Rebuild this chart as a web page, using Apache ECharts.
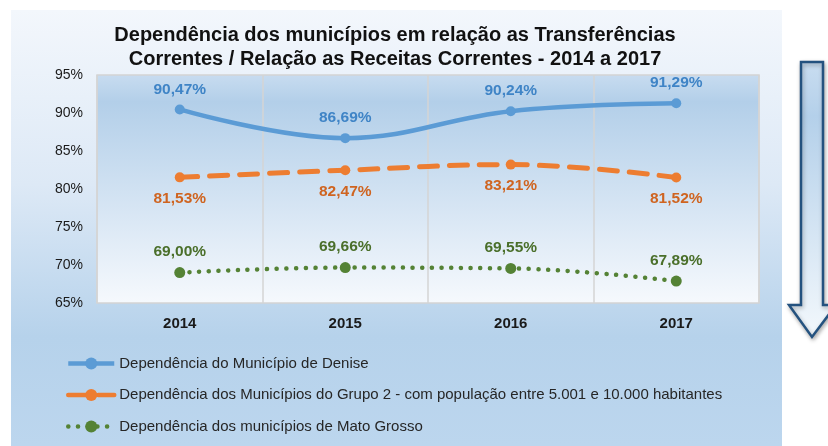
<!DOCTYPE html>
<html><head><meta charset="utf-8">
<script src="https://cdn.jsdelivr.net/npm/echarts@6/dist/echarts.min.js"></script>
<style>
html,body{margin:0;padding:0;background:#fff;}
#c{width:828px;height:446px;
background:linear-gradient(to bottom,#f3f7fc 0%,#dde9f6 40%,#b6d2eb 75%,#bcd6ee 100%) no-repeat;
background-position:11px 10px;background-size:771px 436px;}
</style></head>
<body><div id="c"></div>
<script>
const categories = ['2014','2015','2016','2017'];
const denise = [90.47, 86.69, 90.24, 91.29];
const grupo2 = [81.53, 82.47, 83.21, 81.52];
const matoGrosso = [69.00, 69.66, 69.55, 67.89];
const seriesNames = ['Dependência do Município de Denise',
  'Dependência dos Municípios do Grupo 2 - com população entre 5.001 e 10.000 habitantes',
  'Dependência dos municípios de Mato Grosso'];
const yMin = 65, yMax = 95, yStep = 5;

const FONT = '"Liberation Sans", Arial, sans-serif';
const fmt = p => p.value.toFixed(2).replace('.', ',') + '%';

const chart = echarts.init(document.getElementById('c'), null, {renderer:'canvas'});
chart.setOption({
  animation:false,
  backgroundColor:'transparent',
  title:{
    text:'Dependência dos municípios em relação as Transferências\nCorrentes / Relação as Receitas Correntes - 2014 a 2017',
    left:390, top:18, textAlign:'center',
    textStyle:{fontFamily:FONT, fontSize:20, fontWeight:'bold', color:'#111', lineHeight:24}
  },
  grid:{left:97, right:69, top:75, bottom:143, show:true,
    borderColor:'#d4d4d4', borderWidth:1.5,
    backgroundColor:{type:'linear',x:0,y:0,x2:0,y2:1,colorStops:[
      {offset:0,color:'#c8dcf0'},{offset:0.12,color:'#b3cfe9'},{offset:1,color:'#f6f9fd'}]}
  },
  xAxis:{type:'category', data:categories, boundaryGap:true,
    axisLine:{show:false}, axisTick:{show:false},
    splitLine:{show:true, lineStyle:{color:'#d4d4d4', width:1.5}},
    axisLabel:{fontFamily:FONT, fontSize:15, fontWeight:'bold', color:'#1a1a1a', margin:13}
  },
  yAxis:{type:'value', min:yMin, max:yMax, interval:yStep,
    axisLine:{show:false}, axisTick:{show:false}, splitLine:{show:false},
    axisLabel:{fontFamily:FONT, fontSize:14, color:'#1a1a1a', margin:14, formatter:v=>v+'%'}
  },
  legend:{orient:'vertical', left:61, top:351, itemWidth:46, itemHeight:15, itemGap:16.5,
    lineStyle:{width:4.5},
    textStyle:{fontFamily:FONT, fontSize:15, color:'#262626'},
    data:seriesNames
  },
  graphic:[{
    type:'polygon', z:10,
    shape:{points:[[801,62],[823,62],[823,305],[836,305],[812,337],[789,305],[801,305]]},
    style:{
      fill:{type:'linear',x:0,y:0,x2:0,y2:1,colorStops:[
        {offset:0,color:'#c9ddf0'},{offset:0.2,color:'#b4d0ea'},{offset:1,color:'#f3f8fc'}]},
      stroke:'#24527f', lineWidth:2.5,
      shadowBlur:4, shadowColor:'rgba(0,0,0,0.3)', shadowOffsetX:1, shadowOffsetY:2
    }
  }],
  series:[
    {name:seriesNames[0], type:'line', data:denise, smooth:0.4,
      symbol:'circle', symbolSize:10,
      lineStyle:{color:'#5b9bd5', width:4.5},
      itemStyle:{color:'#5b9bd5'},
      label:{show:true, position:'top', distance:7, formatter:fmt,
        fontFamily:FONT, fontSize:15.5, fontWeight:'bold', color:'#3f84c6'}
    },
    {name:seriesNames[1], type:'line', data:grupo2, smooth:0.4,
      symbol:'circle', symbolSize:10,
      lineStyle:{color:'#ed7d31', width:5, type:[18,12], cap:'round'},
      itemStyle:{color:'#ed7d31'},
      label:{show:true, position:'bottom', distance:8, formatter:fmt,
        fontFamily:FONT, fontSize:15.5, fontWeight:'bold', color:'#cf6420'}
    },
    {name:seriesNames[2], type:'line', data:matoGrosso, smooth:0.4,
      symbol:'circle', symbolSize:11,
      lineStyle:{color:'#548235', width:4.5, type:[0.1,9.6], cap:'round'},
      itemStyle:{color:'#548235'},
      label:{show:true, position:'top', distance:7, formatter:fmt,
        fontFamily:FONT, fontSize:15.5, fontWeight:'bold', color:'#4a6f2a'}
    }
  ]
});
</script></body></html>
